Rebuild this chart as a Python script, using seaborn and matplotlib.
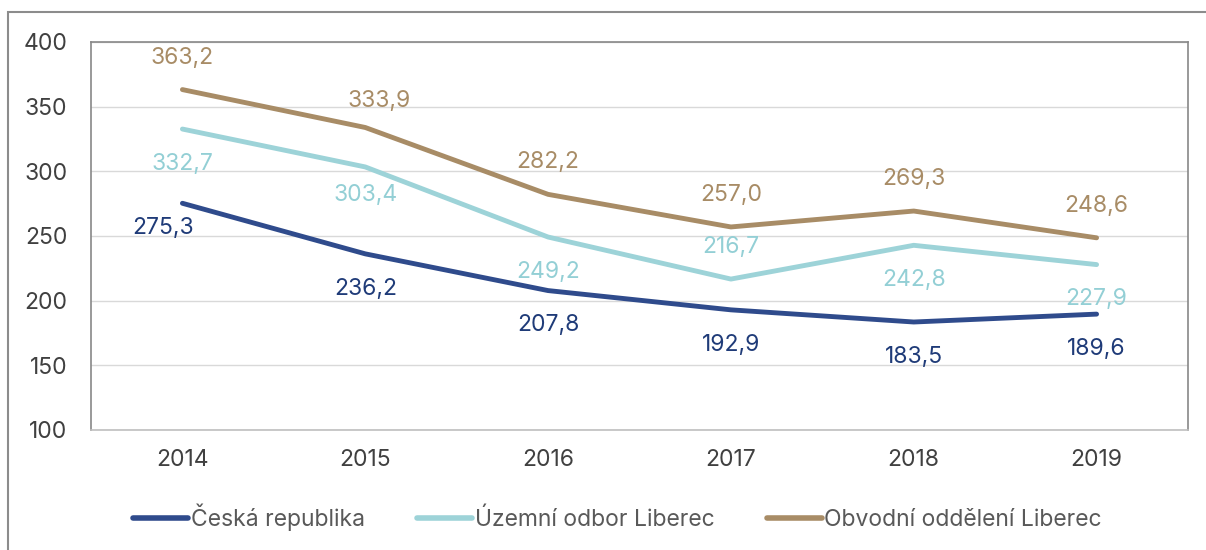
import matplotlib
matplotlib.use("Agg")
import matplotlib.pyplot as plt
import seaborn as sns
import pandas as pd
from matplotlib.patches import Rectangle

years = ["2014", "2015", "2016", "2017", "2018", "2019"]
cr = [275.3, 236.2, 207.8, 192.9, 183.5, 189.6]
uo = [332.7, 303.4, 249.2, 216.7, 242.8, 227.9]
oo = [363.2, 333.9, 282.2, 257.0, 269.3, 248.6]
series_names = ["Česká republika", "Územní odbor Liberec", "Obvodní oddělení Liberec"]
yticks = [100, 150, 200, 250, 300, 350, 400]

colors = ["#2F4B8C", "#9DD3D8", "#A88C66"]
label_colors = ["#1F3B78", "#93CFD5", "#A88C66"]
# value label offsets (points) from each data point
B, A = (0, -25), (0, 23)
label_offsets = [
    [(-14, -18), B, B, B, B, B],
    [B, (0, -20), B, A, B, B],
    [A, (10, 19), A, A, A, A],
]

sns.set_theme(style="white")
plt.rcParams["font.family"] = ["Inter", "DejaVu Sans"]

df = pd.DataFrame({
    "year": years * 3,
    "value": cr + uo + oo,
    "series": sum([[n] * len(years) for n in series_names], []),
})

fig = plt.figure(figsize=(12.06, 5.5), dpi=100)
ax = fig.add_axes([91 / 1206, 1 - 430 / 550, (1188 - 91) / 1206, (430 - 42) / 550])

sns.lineplot(data=df, x="year", y="value", hue="series", palette=colors,
             linewidth=3.5, ax=ax, sort=False, solid_capstyle="round")

for vals, col, offs in zip([cr, uo, oo], label_colors, label_offsets):
    for i, v in enumerate(vals):
        ax.annotate(f"{v:.1f}".replace(".", ","), (i, v), xytext=offs[i],
                    textcoords="offset points", ha="center", va="center",
                    color=col, fontsize=16.5)

ax.set_xlim(-0.5, 5.5)
ax.set_ylim(100, 400)
ax.set_yticks(yticks)
ax.set_xlabel("")
ax.set_ylabel("")
ax.grid(axis="y", color="#D9D9D9", linewidth=1)
ax.set_axisbelow(True)
for side in ["left", "top", "right"]:
    ax.spines[side].set_color("#888888")
    ax.spines[side].set_linewidth(1.2)
ax.spines["bottom"].set_color("#BFBFBF")
ax.spines["bottom"].set_linewidth(1.2)
ax.tick_params(axis="both", length=0, labelsize=16.5, labelcolor="#404040")
ax.tick_params(axis="y", pad=17)
ax.tick_params(axis="x", pad=14)

leg = ax.legend(loc="center", bbox_to_anchor=(0.48, -0.225), ncol=3,
                frameon=False, fontsize=16.5, handlelength=2.4, handletextpad=0.1,
                columnspacing=2.3)
for t in leg.get_texts():
    t.set_color("#595959")
for h in leg.get_lines():
    h.set_linewidth(4)
    h.set_solid_capstyle("round")

# outer border of the figure frame
fig.patches.append(Rectangle((8 / 1206, -0.1), 1.5, 1 - 12 / 550 + 0.1,
                             transform=fig.transFigure, fill=False,
                             edgecolor="#8C8C8C", linewidth=1.5))

fig.savefig("out.png", dpi=100)
